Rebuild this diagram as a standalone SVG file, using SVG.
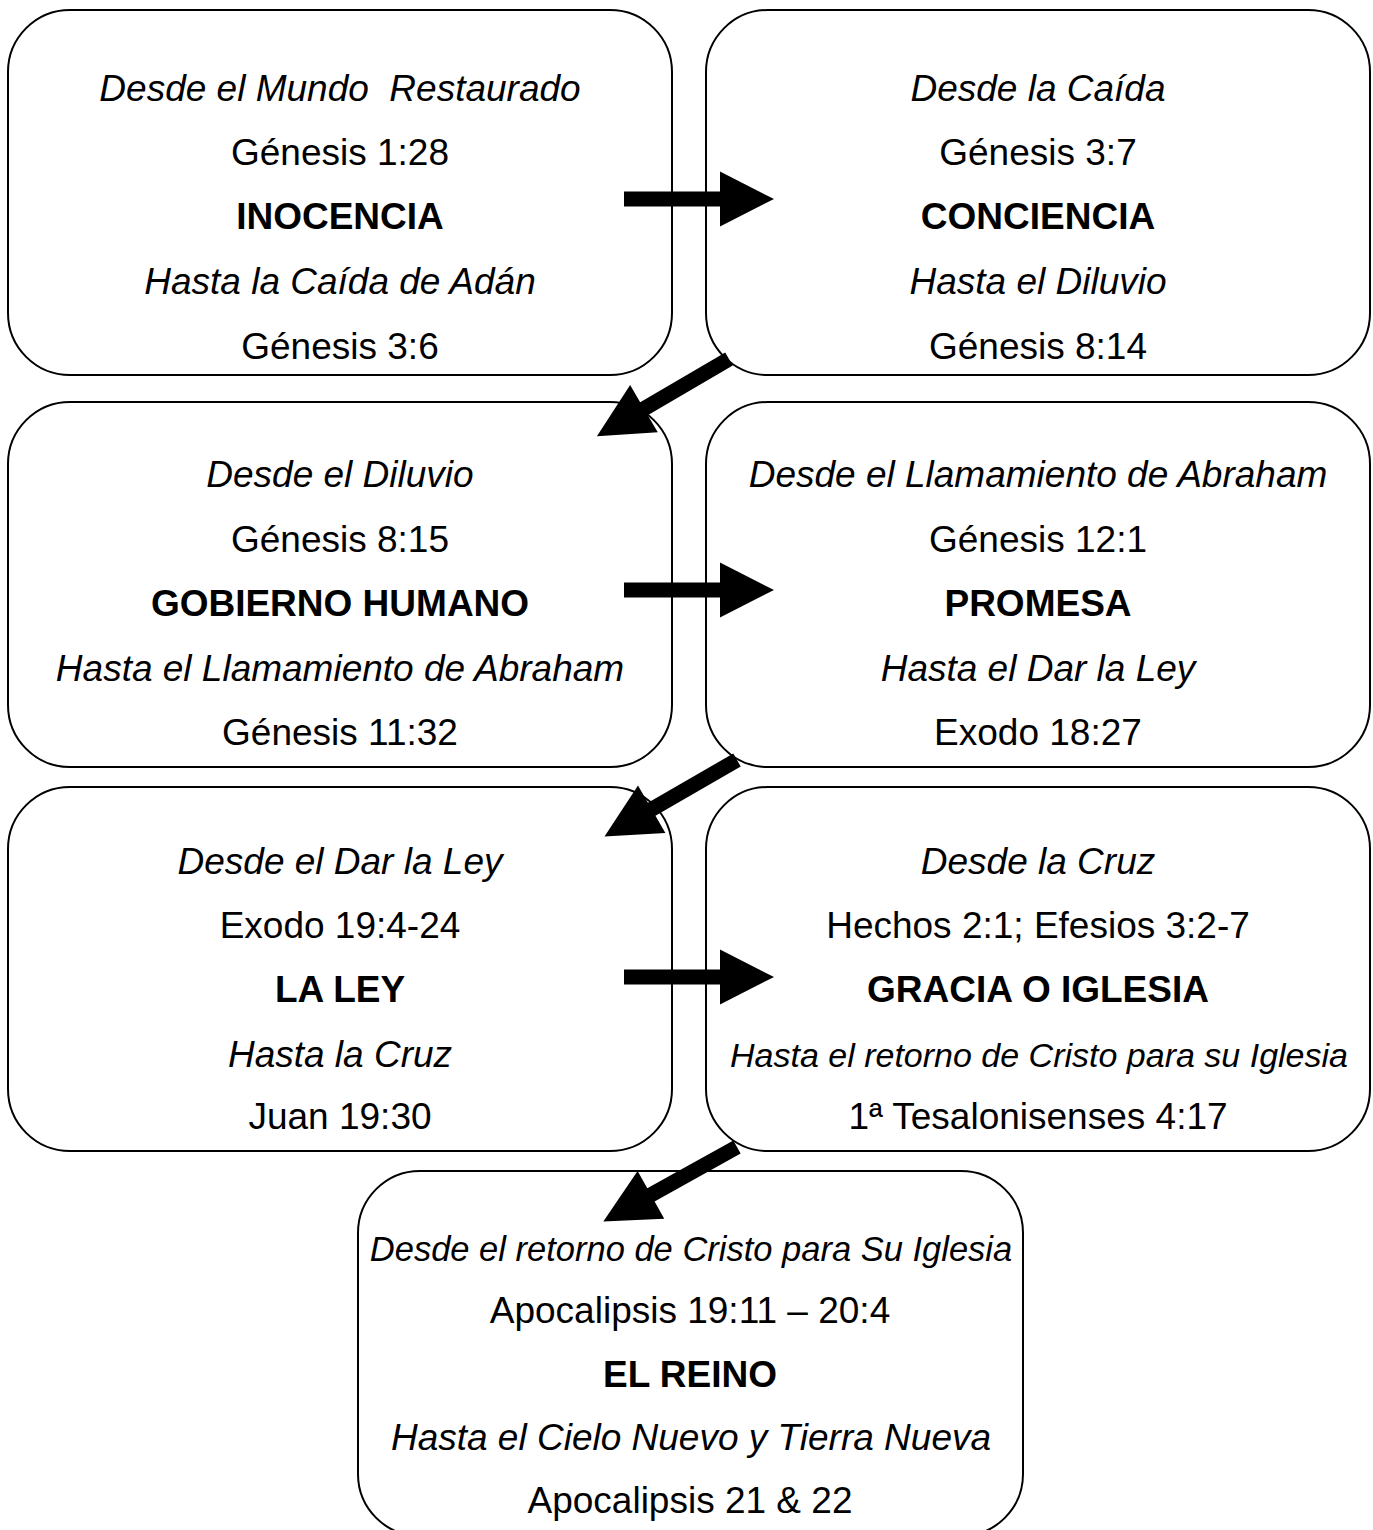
<svg xmlns="http://www.w3.org/2000/svg" xmlns:xlink="http://www.w3.org/1999/xlink" width="1373" height="1530" viewBox="0 0 1373 1530">
<style>
.box{fill:#fff;stroke:#000;stroke-width:2}
text{font-family:"Liberation Sans",Arial,Helvetica,sans-serif;font-size:37px;fill:#000;text-anchor:middle}
.i{font-style:italic}
.b{font-weight:bold}
.arrow{fill:#000}
</style>
<defs>
<path id="harrow" d="M0,-7.5 H96 V-27.5 L150,0 L96,27.5 V7.5 H0 Z"/>
<path id="darrow" d="M0,-7.5 H98.5 V-27.4 L153,0 L98.5,27.4 V7.5 H0 Z"/>
</defs>
<rect width="1373" height="1530" fill="#fff"/>
<g id="node-inocencia">
<rect class="box" x="8" y="10" width="664" height="365" rx="62" ry="62"/>
<text class="i" x="340" y="100.5">Desde el Mundo&#160; Restaurado</text>
<text x="340" y="165">Génesis 1:28</text>
<text class="b" x="340" y="229">INOCENCIA</text>
<text class="i" x="340" y="293.5">Hasta la Caída de Adán</text>
<text x="340" y="358.5">Génesis 3:6</text>
</g>
<g id="node-conciencia">
<rect class="box" x="706" y="10" width="664" height="365" rx="62" ry="62"/>
<text class="i" x="1038" y="100.5">Desde la Caída</text>
<text x="1038" y="165">Génesis 3:7</text>
<text class="b" x="1038" y="229">CONCIENCIA</text>
<text class="i" x="1038" y="293.5">Hasta el Diluvio</text>
<text x="1038" y="358.5">Génesis 8:14</text>
</g>
<g id="node-gobierno">
<rect class="box" x="8" y="402" width="664" height="365" rx="62" ry="62"/>
<text class="i" x="340" y="486.5">Desde el Diluvio</text>
<text x="340" y="551.5">Génesis 8:15</text>
<text class="b" x="340" y="615.5">GOBIERNO HUMANO</text>
<text class="i" x="340" y="680.5">Hasta el Llamamiento de Abraham</text>
<text x="340" y="744.5">Génesis 11:32</text>
</g>
<g id="node-promesa">
<rect class="box" x="706" y="402" width="664" height="365" rx="62" ry="62"/>
<text class="i" x="1038" y="486.5">Desde el Llamamiento de Abraham</text>
<text x="1038" y="551.5">Génesis 12:1</text>
<text class="b" x="1038" y="615.5">PROMESA</text>
<text class="i" x="1038" y="680.5">Hasta el Dar la Ley</text>
<text x="1038" y="744.5">Exodo 18:27</text>
</g>
<g id="node-ley">
<rect class="box" x="8" y="787" width="664" height="364" rx="62" ry="62"/>
<text class="i" x="340" y="873.5">Desde el Dar la Ley</text>
<text x="340" y="938">Exodo 19:4-24</text>
<text class="b" x="340" y="1002">LA LEY</text>
<text class="i" x="340" y="1066.5">Hasta la Cruz</text>
<text x="340" y="1129">Juan 19:30</text>
</g>
<g id="node-gracia">
<rect class="box" x="706" y="787" width="664" height="364" rx="62" ry="62"/>
<text class="i" x="1038" y="873.5">Desde la Cruz</text>
<text x="1038" y="938">Hechos 2:1; Efesios 3:2-7</text>
<text class="b" x="1038" y="1002">GRACIA O IGLESIA</text>
<text class="i" x="1039" y="1066.5" style="font-size:34px">Hasta el retorno de Cristo para su Iglesia</text>
<text x="1038" y="1129">1ª Tesalonisenses 4:17</text>
</g>
<g id="node-reino">
<rect class="box" x="358" y="1171" width="665" height="365" rx="62" ry="62"/>
<text class="i" x="691" y="1260.5" style="font-size:34.5px">Desde el retorno de Cristo para Su Iglesia</text>
<text x="690" y="1322.5">Apocalipsis 19:11 – 20:4</text>
<text class="b" x="690" y="1386.5">EL REINO</text>
<text class="i" x="691" y="1449.5">Hasta el Cielo Nuevo y Tierra Nueva</text>
<text x="690" y="1512.5">Apocalipsis 21 &amp; 22</text>
</g>
<g id="connectors" class="arrow">
<use xlink:href="#harrow" href="#harrow" transform="translate(624,199)"/>
<use xlink:href="#darrow" href="#darrow" transform="translate(729,359) rotate(149.7)"/>
<use xlink:href="#harrow" href="#harrow" transform="translate(624,590)"/>
<use xlink:href="#darrow" href="#darrow" transform="translate(737,760) rotate(150)"/>
<use xlink:href="#harrow" href="#harrow" transform="translate(624,977)"/>
<use xlink:href="#darrow" href="#darrow" transform="translate(737,1147) rotate(150.9)"/>
</g>
</svg>
